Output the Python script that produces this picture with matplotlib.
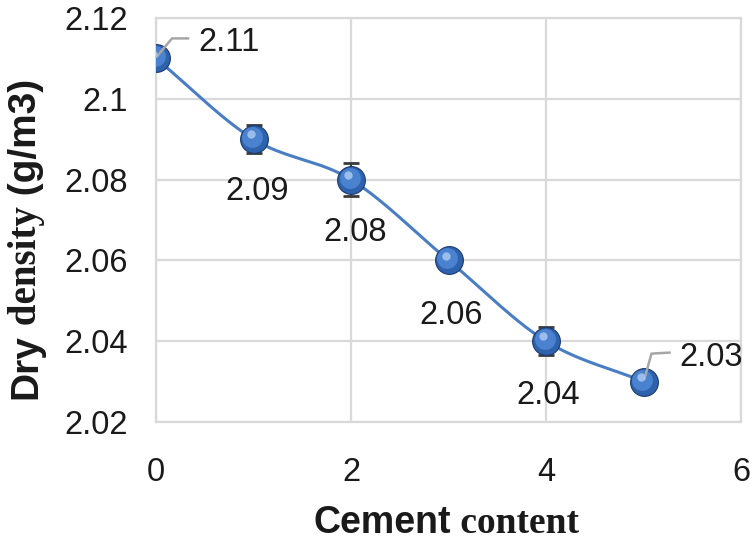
import numpy as np
import matplotlib
matplotlib.use("Agg")
import matplotlib.pyplot as plt
from matplotlib import transforms

# ---- data ----
cement = [0, 1, 2, 3, 4, 5]
density = [2.11, 2.09, 2.08, 2.06, 2.04, 2.03]
errors = [0.001, 0.0035, 0.004, 0.001, 0.0035, 0.001]
labels = ["2.11", "2.09", "2.08", "2.06", "2.04", "2.03"]
xticks = [0, 2, 4, 6]
yticks = [2.02, 2.04, 2.06, 2.08, 2.10, 2.12]
ytick_labels = ["2.02", "2.04", "2.06", "2.08", "2.1", "2.12"]

SANS = "Liberation Sans"
SERIF = "Liberation Serif"

fig = plt.figure(figsize=(7.5, 5.45), dpi=100)
ax = fig.add_axes([156/750, 1-422/545, (741-156)/750, (422-18)/545])
ax.set_xlim(0, 6)
ax.set_ylim(2.02, 2.12)
ax.set_xticks(xticks)
ax.set_yticks(yticks)
ax.set_yticklabels(ytick_labels)
ax.tick_params(length=0, labelsize=23.5, colors="#1a1a1a")
ax.tick_params(axis="x", pad=25)
ax.tick_params(axis="y", pad=20)
for lab in ax.get_xticklabels() + ax.get_yticklabels():
    lab.set_fontfamily(SANS)
ax.grid(True, color="#d9d9d9", lw=1.6)
ax.set_axisbelow(True)
for s in ax.spines.values():
    s.set_color("#d9d9d9")
    s.set_linewidth(1.6)

# smooth curve (Catmull-Rom through the data points)
x = np.array(cement, float)
y = np.array(density, float)
n = len(x)
xs, ys = [], []
for i in range(n - 1):
    p0 = i - 1 if i > 0 else i
    p3 = i + 2 if i + 2 < n else i + 1
    mx0 = (x[i+1] - x[p0]) / 2 if i > 0 else (x[i+1] - x[i])
    my0 = (y[i+1] - y[p0]) / 2 if i > 0 else (y[i+1] - y[i])
    mx1 = (x[p3] - x[i]) / 2 if i + 2 < n else (x[i+1] - x[i])
    my1 = (y[p3] - y[i]) / 2 if i + 2 < n else (y[i+1] - y[i])
    t = np.linspace(0, 1, 40)
    h00 = 2*t**3 - 3*t**2 + 1
    h10 = t**3 - 2*t**2 + t
    h01 = -2*t**3 + 3*t**2
    h11 = t**3 - t**2
    xs.extend(h00*x[i] + h10*mx0 + h01*x[i+1] + h11*mx1)
    ys.extend(h00*y[i] + h10*my0 + h01*y[i+1] + h11*my1)
ax.plot(xs, ys, color="#4a7ec4", lw=2.2, zorder=3)

ax.errorbar(cement, density, yerr=errors, fmt="none", ecolor="#3a3a3a",
            elinewidth=1.5, capsize=6, capthick=2, zorder=4)

# spheres
ax.plot(cement, density, "o", ms=20, mfc="#2f62ad", mec="#1c3b6e", mew=0.8, zorder=5)
ax.plot(cement, density, "o", ms=15, mfc="#4a82d0", mec="none", zorder=6,
        transform=transforms.offset_copy(ax.transData, fig=fig, x=-1, y=1.5, units="points"))
ax.plot(cement, density, "o", ms=6, mfc="#a9c8f0", mec="none", alpha=0.85, zorder=7,
        transform=transforms.offset_copy(ax.transData, fig=fig, x=-2, y=3.5, units="points"))

# data labels
offsets = [(73, 16), (4, -52), (4, -53), (3, -55), (2, -54), (68, 24)]
for xi, yi, lab, (dx, dy) in zip(cement, density, labels, offsets):
    ax.annotate(lab, (xi, yi), xytext=(dx, dy), textcoords="offset pixels",
                ha="center", va="center", fontsize=23.5, fontfamily=SANS,
                color="#1a1a1a", zorder=8, annotation_clip=False)

# leader lines for first and last labels (pixel offsets)
def leader(xi, yi, pts):
    base = ax.transData.transform((xi, yi))
    px = [base[0] + p[0] for p in pts]
    py = [base[1] + p[1] for p in pts]
    inv = ax.transData.inverted()
    d = inv.transform(np.column_stack([px, py]))
    ax.plot(d[:, 0], d[:, 1], color="#a6a6a6", lw=1.8, zorder=6.5, clip_on=False)

leader(cement[0], density[0], [(1, 2), (16, 20), (32, 20)])
leader(cement[-1], density[-1], [(1, 3), (8, 28), (26, 29)])

# mixed-font axis labels
fig.canvas.draw()
r = fig.canvas.get_renderer()

# x label
fsx = 27
t1 = fig.text(0, 0, "Cement", fontsize=fsx, fontweight="bold", fontfamily=SANS, color="#1a1a1a")
t2 = fig.text(0, 0, " content", fontsize=fsx, fontweight="bold", fontfamily=SERIF, color="#1a1a1a")
w1 = t1.get_window_extent(r).width
w2 = t2.get_window_extent(r).width
start = 446 - (w1 + w2) / 2
yb = 1 - 533/545
t1.set_position((start/750, yb))
t2.set_position(((start + w1)/750, yb))

# y label (rotated, bottom to top)
fsy = 28
pieces = [("Dry", SANS), (" density", SERIF), (" (g/m3)", SANS)]
texts = []
for s, f in pieces:
    texts.append(fig.text(0, 0, s, fontsize=fsy, fontweight="bold", fontfamily=f,
                          rotation=90, color="#1a1a1a", rotation_mode="anchor",
                          ha="left", va="baseline"))
fig.canvas.draw()
hs = [t.get_window_extent(r).height for t in texts]
total = sum(hs)
ybot = 239 + total/2  # pixel from top
xbase = 36
cur = ybot
for t, h in zip(texts, hs):
    t.set_position((xbase/750, 1 - cur/545))
    cur -= h

fig.savefig("out.png", dpi=100)
